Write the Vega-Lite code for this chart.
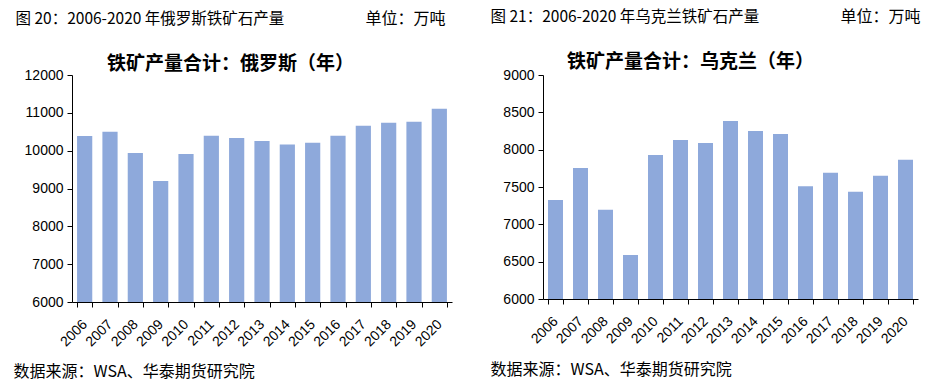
{
  "$schema": "https://vega.github.io/schema/vega-lite/v6.json",
  "padding": {"left": 13, "top": 8, "right": 5, "bottom": 4},
  "background": "white",
  "spacing": 38,
  "datasets": {
    "russia": [
      {"year": "2006", "value": 10390},
      {"year": "2007", "value": 10500},
      {"year": "2008", "value": 9940},
      {"year": "2009", "value": 9200},
      {"year": "2010", "value": 9910},
      {"year": "2011", "value": 10395},
      {"year": "2012", "value": 10335},
      {"year": "2013", "value": 10255},
      {"year": "2014", "value": 10160},
      {"year": "2015", "value": 10210},
      {"year": "2016", "value": 10395},
      {"year": "2017", "value": 10660},
      {"year": "2018", "value": 10740},
      {"year": "2019", "value": 10765},
      {"year": "2020", "value": 11110}
    ],
    "ukraine": [
      {"year": "2006", "value": 7325},
      {"year": "2007", "value": 7755},
      {"year": "2008", "value": 7195},
      {"year": "2009", "value": 6590},
      {"year": "2010", "value": 7930},
      {"year": "2011", "value": 8130},
      {"year": "2012", "value": 8090},
      {"year": "2013", "value": 8385},
      {"year": "2014", "value": 8250},
      {"year": "2015", "value": 8210},
      {"year": "2016", "value": 7510},
      {"year": "2017", "value": 7690},
      {"year": "2018", "value": 7435},
      {"year": "2019", "value": 7650},
      {"year": "2020", "value": 7865}
    ]
  },
  "config": {
    "view": {"stroke": null},
    "font": "Noto Sans CJK SC",
    "axis": {
      "grid": false,
      "domainColor": "#000000",
      "tickColor": "#000000",
      "labelColor": "#000000",
      "titleColor": "#000000",
      "labelFont": "Liberation Sans",
      "labelFontSize": 14,
      "titleFont": "Noto Sans CJK SC"
    }
  },
  "hconcat": [
    {
      "width": 380,
      "height": 227,
      "data": {"name": "russia"},
      "layer": [
        {
          "mark": {"type": "bar", "color": "#8EA9DB", "clip": true},
          "encoding": {
            "x": {
              "field": "year", "type": "ordinal",
              "scale": {"paddingInner": 0.4, "paddingOuter": 0.2},
              "axis": {
                "orient": "bottom", "labelAngle": -45, "labelAlign": "right", "labelBaseline": "middle",
                "labelPadding": 15, "tickBand": "extent", "tickSize": 5,
                "title": "数据来源：WSA、华泰期货研究院",
                "titleX": -59, "titleY": 69, "titleAlign": "left", "titleBaseline": "middle",
                "titleFontSize": 16, "titleFontWeight": "normal", "titleAnchor": null
              }
            },
            "y": {
              "field": "value", "type": "quantitative",
              "scale": {"domain": [6000, 12000], "nice": false},
              "axis": {
                "values": [6000, 7000, 8000, 9000, 10000, 11000, 12000], "format": "d",
                "tickSize": 5, "labelPadding": 4,
                "title": "单位：万吨", "titleAngle": 0,
                "titleX": 373, "titleY": -56.5, "titleAlign": "right", "titleBaseline": "middle",
                "titleFontSize": 16, "titleFontWeight": "normal", "titleAnchor": null
              }
            }
          }
        },
        {
          "mark": {"type": "bar", "opacity": 0, "clip": true},
          "encoding": {
            "x": {
              "field": "year", "type": "ordinal",
              "axis": {
                "orient": "top", "domain": false, "ticks": false, "labels": false,
                "title": "铁矿产量合计：俄罗斯（年）",
                "titleX": 158, "titleY": -12, "titleAlign": "center", "titleBaseline": "middle",
                "titleFontSize": 19, "titleFontWeight": "bold", "titleAnchor": null
              }
            },
            "y": {
              "field": "value", "type": "quantitative",
              "axis": {
                "orient": "right", "domain": false, "ticks": false, "labels": false,
                "title": "图 20：2006-2020 年俄罗斯铁矿石产量", "titleAngle": 0,
                "titleX": -437, "titleY": -56.5, "titleAlign": "left", "titleBaseline": "middle",
                "titleFontSize": 15.5, "titleFontWeight": "normal", "titleAnchor": null
              }
            }
          }
        }
      ],
      "resolve": {"axis": {"x": "independent", "y": "independent"}}
    },
    {
      "width": 375,
      "height": 224,
      "data": {"name": "ukraine"},
      "layer": [
        {
          "mark": {"type": "bar", "color": "#8EA9DB", "clip": true},
          "encoding": {
            "x": {
              "field": "year", "type": "ordinal",
              "scale": {"paddingInner": 0.4, "paddingOuter": 0.2},
              "axis": {
                "orient": "bottom", "labelAngle": -45, "labelAlign": "right", "labelBaseline": "middle",
                "labelPadding": 15, "tickBand": "extent", "tickSize": 5,
                "title": "数据来源：WSA、华泰期货研究院",
                "titleX": -53, "titleY": 70, "titleAlign": "left", "titleBaseline": "middle",
                "titleFontSize": 16, "titleFontWeight": "normal", "titleAnchor": null
              }
            },
            "y": {
              "field": "value", "type": "quantitative",
              "scale": {"domain": [6000, 9000], "nice": false},
              "axis": {
                "values": [6000, 6500, 7000, 7500, 8000, 8500, 9000], "format": "d",
                "tickSize": 5, "labelPadding": 4,
                "title": "单位：万吨", "titleAngle": 0,
                "titleX": 377, "titleY": -58.5, "titleAlign": "right", "titleBaseline": "middle",
                "titleFontSize": 16, "titleFontWeight": "normal", "titleAnchor": null
              }
            }
          }
        },
        {
          "mark": {"type": "bar", "opacity": 0, "clip": true},
          "encoding": {
            "x": {
              "field": "year", "type": "ordinal",
              "axis": {
                "orient": "top", "domain": false, "ticks": false, "labels": false,
                "title": "铁矿产量合计：乌克兰（年）",
                "titleX": 147, "titleY": -14, "titleAlign": "center", "titleBaseline": "middle",
                "titleFontSize": 19, "titleFontWeight": "bold", "titleAnchor": null
              }
            },
            "y": {
              "field": "value", "type": "quantitative",
              "axis": {
                "orient": "right", "domain": false, "ticks": false, "labels": false,
                "title": "图 21：2006-2020 年乌克兰铁矿石产量", "titleAngle": 0,
                "titleX": -428, "titleY": -58.5, "titleAlign": "left", "titleBaseline": "middle",
                "titleFontSize": 15.5, "titleFontWeight": "normal", "titleAnchor": null
              }
            }
          }
        }
      ],
      "resolve": {"axis": {"x": "independent", "y": "independent"}}
    }
  ]
}
